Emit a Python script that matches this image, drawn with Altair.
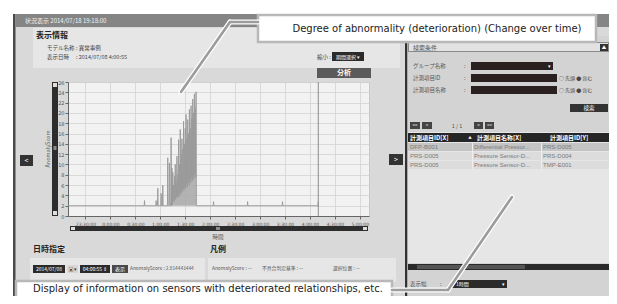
import altair as alt
import pandas as pd

# ---------------- chart data (AnomalyScore over time) ----------------
# minutes after 2014-07-08 00:00 (negative = 2014-07-07 evening)
score_minutes = [
    -51, 40.6, 41, 41.4, 54.6, 55, 55.4, 56.6, 57, 57.4, 60.6, 61, 61.4,
    62.6, 63, 63.4, 68.6, 69, 69.4, 70.6, 71, 71.4, 72.6, 73, 73.4, 74, 74.5,
    75.0, 75.5, 76.0, 76.5, 77.0, 77.5, 78.0, 78.5, 79.0, 79.5, 80.0, 80.5,
    81.0, 81.5, 82.0, 82.5, 83.0, 83.5, 84.0, 84.5, 85.0, 85.5, 86.0, 86.5,
    87.0, 87.5, 88.0, 88.5, 89.0, 89.5, 90.0, 90.5, 91.0, 91.5, 92.0, 92.5,
    93.0, 93.5, 94.0, 94.5, 95.0, 95.5, 96.0, 96.5, 97.0, 97.5, 98.0, 98.5,
    99.0, 99.5, 100.0, 100.5, 101.0, 101.5, 102.0, 102.5, 103.0, 103.4,
    123.6, 124, 124.4, 164.6, 165, 165.4, 206.6, 207, 207.4, 249.6, 250,
]
score_values = [
    2.0, 2.0, 3.0, 2.0, 2.0, 3.0, 2.0, 2.0, 5.4, 2.0, 2.0, 4.4, 2.0,
    2.0, 6.0, 2.0, 2.0, 11.3, 2.0, 2.0, 10.3, 2.5, 2.0, 15.2, 2.0, 9.3, 2.2,
    8.5, 3.0, 6.0, 2.8, 7.7, 3.5, 10.0, 3.2, 6.5, 3.8, 11.6, 3.6,
    8.0, 4.2, 14.8, 3.8, 10.0, 4.5, 16.8, 4.2, 12.0, 5.0, 15.0, 4.6,
    13.0, 5.4, 18.4, 5.0, 14.0, 5.8, 17.0, 5.4, 19.7, 6.2, 15.0, 5.6,
    18.7, 6.6, 16.0, 6.0, 20.7, 7.0, 17.0, 6.4, 21.4, 7.4, 19.0, 6.8,
    22.7, 7.8, 20.0, 7.2, 23.7, 8.2, 21.0, 7.6, 24.1, 2.0,
    2.0, 2.8, 2.0, 2.0, 2.8, 2.0, 2.0, 2.8, 2.0, 2.0, 2.8,
]
score_floor = 2.0
cursor_minutes = [250]
x_tick_minutes = [-30, 0, 30, 60, 90, 120, 150, 180, 210, 240, 270, 300]
x_domain_minutes = [-51, 311]
y_tick_values = [0, 2, 4, 6, 8, 10, 12, 14, 16, 18, 20, 22, 24, 26]
y_domain = [0, 26]

table_col_x = ["DFP-B001", "PRS-D005", "PRS-D005"]
table_col_name = ["Differential Pressur...", "Pressure Sensor-D...", "Pressure Sensor-D..."]
table_col_y = ["PRS-D005", "PRS-D004", "TMP-E001"]

# ---------------- helpers ----------------
BASE = pd.Timestamp("2014-07-08 00:00:00")


def iso(m):
    return (BASE + pd.Timedelta(minutes=m)).strftime("%Y-%m-%dT%H:%M:%S")


def dt(m):
    t = BASE + pd.Timedelta(minutes=m)
    return alt.DateTime(year=t.year, month=t.month, date=t.day, hours=t.hour, minutes=t.minute)


score_df = pd.DataFrame({"time": [iso(m) for m in score_minutes], "score": score_values})
cursor_df = pd.DataFrame({"time": [iso(m) for m in cursor_minutes]})

W, H = 301, 134
OX, OY = 68, 82          # page position of the plot area (left, top)
PAD_L, PAD_T = OX - 8, OY - 8
TOTAL_W, TOTAL_H = 601, 288

x_scale = alt.Scale(domain=[dt(x_domain_minutes[0]), dt(x_domain_minutes[1])])
y_scale = alt.Scale(domain=y_domain, nice=False, zero=False)

x_axis = alt.Axis(values=[dt(m) for m in x_tick_minutes], format="%-H:%M:%S", title=None,
                  labelFontSize=4.5, labelColor="#555555", labelFont="DejaVu Sans",
                  labelOverlap=False, tickSize=3, tickColor="#666666", domainColor="#666666",
                  labelPadding=2, grid=True, gridColor="#d2d2d2", gridWidth=0.8)
y_axis = alt.Axis(values=y_tick_values, title=None, labelFontSize=5, labelColor="#555555",
                  labelFont="DejaVu Sans", labelOverlap=False, tickSize=3, tickColor="#666666",
                  domainColor="#666666", labelPadding=1, grid=True,
                  gridColor="#d2d2d2", gridWidth=0.8)

X_ENC = alt.X("time:T", scale=x_scale, axis=x_axis)
Y_ENC = alt.Y("score:Q", scale=y_scale, axis=y_axis)

area = alt.Chart(score_df).mark_area(color="#a8a8a8", opacity=0.85, interpolate="linear").encode(
    x=X_ENC, y=Y_ENC, y2=alt.datum(score_floor),
)
line = alt.Chart(score_df).mark_line(color="#9a9a9a", strokeWidth=0.9, interpolate="linear").encode(
    x=X_ENC, y=Y_ENC,
)
cursor = alt.Chart(cursor_df).mark_rule(color="#8a8a8a", strokeWidth=1).encode(x=X_ENC)

# ---------------- UI chrome (page-pixel layout) ----------------
rects = []


def R(x1, y1, x2, y2, fill):
    rects.append(dict(x=x1 - OX, x2=x2 - OX, y=y1 - OY, y2=y2 - OY, fill=fill))


texts = {}


def T(group, x, y, text, size=5.5, color="#444444"):
    texts.setdefault(group, []).append(dict(x=x - OX, y=y - OY, text=text, size=size, color=color))


DARK = "#2b2b2b"
# outer white page strips and window frame
R(8, 8, 609, 14, "#ffffff")
R(8, 8, 13, 296, "#ffffff")
R(13, 14, 15.5, 296, "#4a4a4a")
R(15.5, 14, 609, 27, "#858585")
# info panel
R(33, 28, 400, 68, "#e6e6e6")
R(332, 52, 364, 61, DARK)
R(317, 68, 371, 78, "#5a5a5a")
# side buttons
R(20, 155, 33, 166, "#333333")
R(389, 154, 403, 165, "#333333")
# vertical scrollbar
R(52, 82, 58, 216, "#2d2d2d")
R(53, 83, 57, 87, "#dddddd")
R(53, 211, 57, 215, "#dddddd")
R(53.5, 146, 56.5, 150, "#8a8a8a")
# horizontal scrollbar
R(70, 226, 368, 231, "#2d2d2d")
R(71, 227, 75, 230, "#dddddd")
R(363, 227, 367, 230, "#dddddd")
R(216, 227, 220, 230, "#8a8a8a")
# bottom-left boxes
R(30, 258, 205, 282, "#e6e6e6")
R(208, 258, 396, 282, "#e6e6e6")
R(33, 265, 65, 273, DARK)
R(67, 265, 78, 273, "#d8d8d8")
R(80, 265, 110, 273, DARK)
R(112, 265, 128, 273, "#4a4a4a")
# right panel
R(405, 36, 407.5, 296, "#333333")
R(407.5, 36, 609, 296, "#d3d3d3")
R(408, 42, 609, 52, "#8a8a8a")
R(409, 43, 608, 51, "#e2e2e2")
R(600, 44, 608, 51, "#333333")
R(471, 62, 553, 70, "#2a2020")
R(471, 74, 557, 82, "#2a2020")
R(471, 86, 557, 94, "#2a2020")
R(570, 104, 608, 112, "#333333")
for a, b in [(410, 420), (422, 432), (474, 483), (485, 494)]:
    R(a, 122, b, 129, "#444444")
R(408, 132, 609, 263, "#e6e6e6")
R(408, 133, 609, 142, "#262626")
R(408, 143, 609, 151, "#c4c4c4")
R(408, 152, 609, 160, "#dcdcdc")
R(408, 161, 609, 169, "#dcdcdc")
for cx in [472, 541]:
    R(cx, 143, cx + 1, 169, "#eeeeee")
R(408, 264, 609, 270, "#2a2a2a")
R(417, 265, 525, 269, "#555555")
R(452, 280, 507, 288, DARK)

# texts
T("cjk_l", 25, 21, "状況表示 2014/07/18 19:18:00", 6, "#f2f2f2")
T("cjk_lb", 36, 36, "表示情報", 8, "#222222")
T("cjk_l", 47, 47.5, "モデル名称", 5.5)
T("cjk_l", 76, 47.5, ":  異常事例", 5.5)
T("cjk_l", 47, 56.5, "表示日時", 5.5)
T("cjk_l", 76, 56.5, ":  2014/07/08 4:00:55", 5.5)
T("cjk_l", 317, 57, "縮小 :", 5.5)
T("cjk_c", 348, 57, "期間選択 ▾", 5, "#ffffff")
T("cjk_cb", 344, 73, "分析", 7, "#ffffff")
T("cjk_c", 26.5, 160.5, "<", 7, "#ffffff")
T("cjk_c", 396, 159.5, ">", 7, "#ffffff")
T("cjk_c", 218, 237, "時間", 5.5, "#555555")
T("cjk_lb", 33, 250, "日時指定", 8, "#222222")
T("cjk_lb", 210, 250, "凡例", 8, "#222222")
T("cjk_c", 49, 269, "2014/07/08", 5, "#ffffff")
T("cjk_c", 72.5, 269, "▣▾", 5, "#333333")
T("cjk_c", 95, 269, "04:00:55 ⇕", 5, "#ffffff")
T("cjk_c", 120, 269, "表示", 5, "#ffffff")
T("cjk_l", 130, 269, "AnomalyScore : 2.814443444", 4.8, "#555555")
T("cjk_l", 212, 269, "AnomalyScore : —", 4.8, "#555555")
T("cjk_l", 262, 269, "不具合判定基準 : —", 4.8, "#555555")
T("cjk_l", 333, 269, "選択位置 : —", 4.8, "#555555")
# right panel texts
T("cjk_l", 413, 47.5, "検索条件", 6, "#555555")
T("cjk_c", 604, 47.5, "▲", 4.5, "#ffffff")
T("cjk_l", 413, 66, "グループ名称", 5.5, "#555555")
T("cjk_l", 464, 66, ":", 5.5, "#555555")
T("cjk_c", 549, 66, "▾", 5, "#ffffff")
T("cjk_l", 413, 78, "計測項目ID", 5.5, "#555555")
T("cjk_l", 464, 78, ":", 5.5, "#555555")
T("cjk_l", 559, 78, "○ 先頭  ● 含む", 5, "#444444")
T("cjk_l", 413, 90, "計測項目名称", 5.5, "#555555")
T("cjk_l", 464, 90, ":", 5.5, "#555555")
T("cjk_l", 559, 90, "○ 先頭  ● 含む", 5, "#444444")
T("cjk_c", 589, 108, "検索", 5.5, "#ffffff")
T("cjk_c", 415, 125.5, "<<", 4.5, "#ffffff")
T("cjk_c", 427, 125.5, "<", 4.5, "#ffffff")
T("cjk_c", 457, 125.5, "1 /   1", 5.5, "#555555")
T("cjk_c", 478.5, 125.5, ">", 4.5, "#ffffff")
T("cjk_c", 489.5, 125.5, ">>", 4.5, "#ffffff")
T("cjk_lb", 410, 137.5, "計測項目ID[X]", 6, "#ffffff")
T("cjk_c", 470, 137.5, "▲", 3.5, "#ffffff")
T("cjk_lb", 477, 137.5, "計測項目名称[X]", 6, "#ffffff")
T("cjk_lb", 550, 137.5, "計測項目ID[Y]", 6, "#ffffff")
for i, ry in enumerate([147, 156, 165]):
    T("sans_l", 410, ry, table_col_x[i], 6, "#7a7a7a")
    T("sans_l", 474, ry, table_col_name[i], 6, "#7a7a7a")
    T("sans_l", 543, ry, table_col_y[i], 6, "#7a7a7a")
T("cjk_l", 410, 284, "表示幅", 5.5, "#555555")
T("cjk_l", 440, 284, ":", 5.5, "#555555")
T("cjk_l", 456, 284, "1時間", 5, "#ffffff")
T("cjk_c", 503, 284, "▾", 5, "#ffffff")
T("rot", 48, 149, "AnomalyScore", 5.5, "#666666")
T("call_c", 437, 29, "Degree of abnormality (deterioration) (Change over time)", 10, "#222222")
T("call_l", 33, 289, "Display of information on sensors with deteriorated relationships, etc.", 10, "#222222")

XN = dict(scale=None, axis=None)


def rect_layer(df, **kw):
    return alt.Chart(df).mark_rect(**kw).encode(
        x=alt.X("x:Q", **XN), x2="x2:Q",
        y=alt.Y("y:Q", **XN), y2="y2:Q",
        color=alt.Color("fill:N", scale=None),
    )


def text_layer(rows, align="left", weight="normal", font="Noto Sans CJK JP", angle=0):
    return alt.Chart(pd.DataFrame(rows)).mark_text(
        align=align, baseline="middle", fontWeight=weight, font=font, angle=angle
    ).encode(
        x=alt.X("x:Q", **XN), y=alt.Y("y:Q", **XN), text="text:N",
        color=alt.Color("color:N", scale=None), size=alt.Size("size:Q", scale=None),
    )


chrome = rect_layer(pd.DataFrame(rects))

callout_boxes = pd.DataFrame([
    dict(x=258 - OX, x2=596 - OX, y=15 - OY, y2=42 - OY, fill="#ffffff"),
    dict(x=16 - OX, x2=392 - OX, y=281 - OY, y2=306 - OY, fill="#ffffff"),
])
callouts = alt.Chart(callout_boxes).mark_rect(stroke="#b8b8b8", strokeWidth=2.5).encode(
    x=alt.X("x:Q", **XN), x2="x2:Q", y=alt.Y("y:Q", **XN), y2="y2:Q",
    color=alt.Color("fill:N", scale=None),
)

segs = pd.DataFrame([
    dict(x=258 - OX, x2=230 - OX, y=22 - OY, y2=22 - OY),
    dict(x=230 - OX, x2=181 - OX, y=22 - OY, y2=92 - OY),
    dict(x=392 - OX, x2=448 - OX, y=290 - OY, y2=290 - OY),
    dict(x=448 - OX, x2=512 - OX, y=290 - OY, y2=197 - OY),
])
seg_enc = dict(x=alt.X("x:Q", **XN), x2="x2:Q", y=alt.Y("y:Q", **XN), y2="y2:Q")
lead_w = alt.Chart(segs).mark_rule(color="#ffffff", strokeWidth=5, strokeCap="round").encode(**seg_enc)
lead_g = alt.Chart(segs).mark_rule(color="#9c9c9c", strokeWidth=2.6, strokeCap="round").encode(**seg_enc)

styles = {
    "cjk_l": dict(),
    "cjk_lb": dict(weight="bold"),
    "cjk_c": dict(align="center"),
    "cjk_cb": dict(align="center", weight="bold"),
    "sans_l": dict(font="Liberation Sans"),
    "rot": dict(align="center", angle=270),
    "call_c": dict(align="center", font="DejaVu Sans"),
    "call_l": dict(font="DejaVu Sans"),
}
back_groups = [g for g in texts if not g.startswith("call")]
front_groups = [g for g in texts if g.startswith("call")]

layers = [chrome, area, line, cursor]
layers += [text_layer(texts[g], **styles[g]) for g in back_groups]
layers += [callouts, lead_w, lead_g]
layers += [text_layer(texts[g], **styles[g]) for g in front_groups]

chart = alt.layer(*layers).properties(
    width=W, height=H,
    autosize=alt.AutoSizeParams(type="none"),
    padding={"left": PAD_L, "top": PAD_T, "right": TOTAL_W - PAD_L - W, "bottom": TOTAL_H - PAD_T - H},
    background="#d9d9d9",
).configure_view(fill="#f2f2f2", stroke="#c8c8c8", strokeWidth=1)

chart.save("out.html", embed_options={"renderer": "svg", "actions": False})
